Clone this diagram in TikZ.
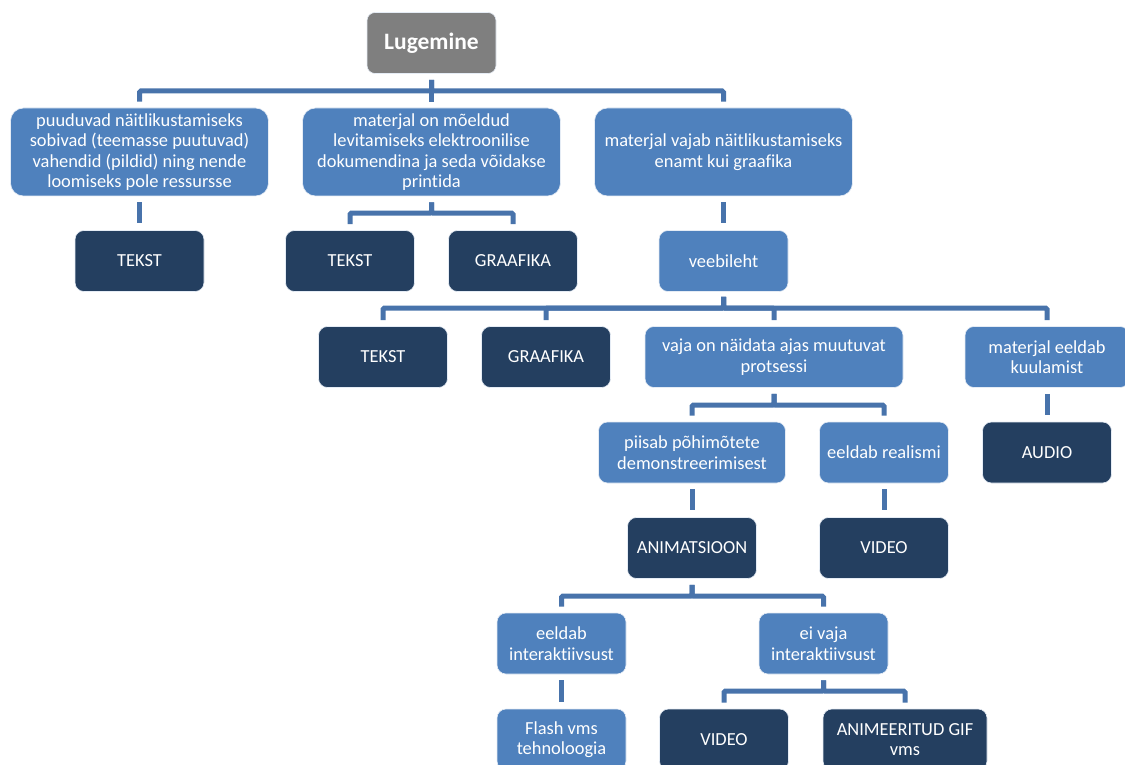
\documentclass[tikz,border=0pt]{standalone}
\usepackage{fontspec}
\setmainfont{Carlito}[Ligatures=NoCommon]
\definecolor{rootgray}{HTML}{7F7F7F}
\definecolor{condblue}{HTML}{4F81BD}
\definecolor{leafnavy}{HTML}{243F60}
\definecolor{linkblue}{HTML}{4873AB}

\begin{document}
\begin{tikzpicture}[x=1pt,y=-1pt,
  box/.style={rectangle, text=white, align=center, inner sep=0pt,
    draw=white!85!condblue, line width=0.6pt,
    font=\fontsize{18.4}{20.5}\selectfont},
  root/.style={box, fill=rootgray, rounded corners=8pt, minimum width=129pt,
    minimum height=61pt, font=\fontsize{23.5}{26}\selectfont\bfseries},
  cond/.style={box, fill=condblue, rounded corners=9pt, minimum height=61pt,
    minimum width=129pt},
  bigcond/.style={cond, rounded corners=13pt, minimum height=88pt, minimum width=258pt},
  leaf/.style={box, fill=leafnavy, rounded corners=9pt, minimum height=61pt,
    minimum width=129pt},
  link/.style={draw=linkblue, line width=5pt, rounded corners=1.5pt},
]
\useasboundingbox (0,0) rectangle (1125,765);

% root
\node[root] (root) at (431.5,43) {Lugemine};

% first level
\node[bigcond] (c1) at (139.5,152) {puuduvad näitlikustamiseks\\sobivad (teemasse puutuvad)\\vahendid (pildid) ning nende\\loomiseks pole ressursse};
\node[bigcond] (c2) at (431.5,152) {materjal on mõeldud\\levitamiseks elektroonilise\\dokumendina ja seda võidakse\\printida};
\node[bigcond] (c3) at (723.5,152) {materjal vajab näitlikustamiseks\\enamt kui graafika};

% second level
\node[leaf] (t1) at (139.5,261) {TEKST};
\node[leaf] (t2) at (350,261) {TEKST};
\node[leaf] (g1) at (513,261) {GRAAFIKA};
\node[cond] (web) at (723.5,261) {veebileht};

% third level
\node[leaf] (t3) at (383,357) {TEKST};
\node[leaf] (g2) at (546,357) {GRAAFIKA};
\node[cond, minimum width=258pt] (proc) at (774,357) {vaja on näidata ajas muutuvat\\protsessi};
\node[cond, minimum width=164pt] (listen) at (1047,357) {materjal eeldab\\kuulamist};

% fourth level
\node[cond, minimum width=187pt] (demo) at (692,452.5) {piisab põhimõtete\\demonstreerimisest};
\node[cond] (real) at (884,452.5) {eeldab realismi};
\node[leaf] (audio) at (1047,452.5) {AUDIO};

% fifth level
\node[leaf] (anim) at (692,548) {ANIMATSIOON};
\node[leaf] (v1) at (884,548) {VIDEO};

% sixth level
\node[cond] (inter) at (561.5,643.5) {eeldab\\interaktiivsust};
\node[cond] (nointer) at (823.5,643.5) {ei vaja\\interaktiivsust};

% seventh level
\node[cond] (flash) at (561.5,739.5) {Flash vms\\tehnoloogia};
\node[leaf] (v2) at (724,739.5) {VIDEO};
\node[leaf, minimum width=164pt] (gif) at (905,739.5) {ANIMEERITUD GIF\\vms};

% bus heights of the forks
\coordinate (busA) at (0,91);
\coordinate (busB) at (0,213);
\coordinate (busC) at (0,308);
\coordinate (busD) at (0,405);
\coordinate (busE) at (0,596);
\coordinate (busF) at (0,691);

% forks
\foreach \kid in {c1,c2,c3}
  \draw[link] ([yshift=-6pt]root.south) -- (root.south |- busA) -| ([yshift=6pt]\kid.north);
\foreach \kid in {t2,g1}
  \draw[link] ([yshift=-6pt]c2.south) -- (c2.south |- busB) -| ([yshift=6pt]\kid.north);
\foreach \kid in {t3,g2,proc,listen}
  \draw[link] ([yshift=-5pt]web.south) -- (web.south |- busC) -| ([yshift=6pt]\kid.north);
\foreach \kid in {demo,real}
  \draw[link] ([yshift=-6pt]proc.south) -- (proc.south |- busD) -| ([yshift=6pt]\kid.north);
\foreach \kid in {inter,nointer}
  \draw[link] ([yshift=-6pt]anim.south) -- (anim.south |- busE) -| ([yshift=6pt]\kid.north);
\foreach \kid in {v2,gif}
  \draw[link] ([yshift=-6pt]nointer.south) -- (nointer.south |- busF) -| ([yshift=6pt]\kid.north);

% single links
\draw[link] ([yshift=-6pt]c1.south) -- ([yshift=7pt]t1.north);
\draw[link] ([yshift=-6pt]c3.south) -- ([yshift=7pt]web.north);
\draw[link] ([yshift=-6pt]listen.south) -- ([yshift=7pt]audio.north);
\draw[link] ([yshift=-6pt]demo.south) -- ([yshift=7pt]anim.north);
\draw[link] ([yshift=-6pt]real.south) -- ([yshift=7pt]v1.north);
\draw[link] ([yshift=-6pt]inter.south) -- ([yshift=7pt]flash.north);
\end{tikzpicture}
\end{document}
